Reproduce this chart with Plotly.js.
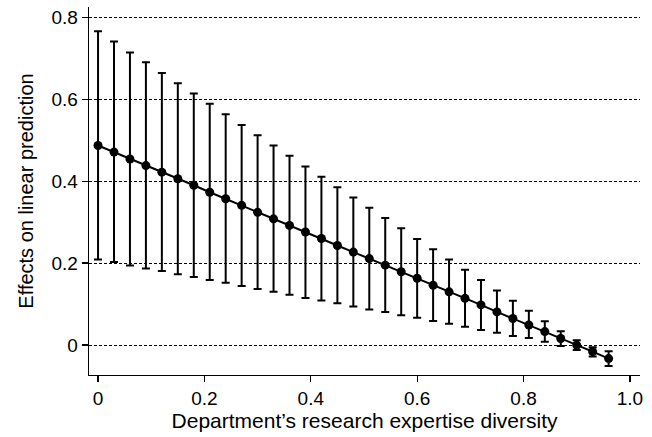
<!DOCTYPE html>
<html>
<head>
<meta charset="utf-8">
<script src="https://cdn.plot.ly/plotly-3.0.1.min.js"></script>
<style>html,body{margin:0;padding:0;background:#fff;}#chart{width:652px;height:437px;}</style>
</head>
<body>
<div id="chart"></div>
<script>
const diversity = [0, 0.03, 0.06, 0.09, 0.12, 0.15, 0.18, 0.21, 0.24, 0.27, 0.30, 0.33, 0.36, 0.39, 0.42, 0.45, 0.48, 0.51, 0.54, 0.57, 0.60, 0.63, 0.66, 0.69, 0.72, 0.75, 0.78, 0.81, 0.84, 0.87, 0.90, 0.93, 0.96];
const effect = [0.487, 0.471, 0.454, 0.438, 0.422, 0.406, 0.390, 0.373, 0.357, 0.341, 0.324, 0.308, 0.292, 0.276, 0.260, 0.243, 0.227, 0.211, 0.195, 0.179, 0.163, 0.146, 0.130, 0.114, 0.098, 0.081, 0.065, 0.049, 0.033, 0.016, 0.000, -0.016, -0.033];
const upperCI = [0.766, 0.741, 0.714, 0.690, 0.664, 0.639, 0.614, 0.589, 0.563, 0.537, 0.512, 0.487, 0.462, 0.436, 0.411, 0.385, 0.360, 0.335, 0.310, 0.285, 0.259, 0.234, 0.209, 0.184, 0.159, 0.133, 0.108, 0.084, 0.058, 0.034, 0.012, -0.005, -0.015];
const lowerCI = [0.209, 0.203, 0.194, 0.187, 0.181, 0.173, 0.166, 0.159, 0.152, 0.144, 0.137, 0.130, 0.123, 0.115, 0.109, 0.102, 0.094, 0.087, 0.081, 0.073, 0.067, 0.059, 0.052, 0.045, 0.037, 0.030, 0.022, 0.017, 0.008, -0.002, -0.012, -0.028, -0.051];
const xTickVals = [0, 0.2, 0.4, 0.6, 0.8, 1.0];
const xTickText = ["0", "0.2", "0.4", "0.6", "0.8", "1.0"];
const yTickVals = [0, 0.2, 0.4, 0.6, 0.8];
const yTickText = ["0", "0.2", "0.4", "0.6", "0.8"];

const errPlus = upperCI.map((u, i) => u - effect[i]);
const errMinus = lowerCI.map((l, i) => effect[i] - l);

const trace = {
  x: diversity,
  y: effect,
  type: 'scatter',
  mode: 'lines+markers',
  line: {color: '#000', width: 2},
  marker: {color: '#000', size: 9},
  error_y: {
    type: 'data', symmetric: false,
    array: errPlus, arrayminus: errMinus,
    color: '#000', thickness: 2, width: 4
  },
  hoverinfo: 'skip'
};

const layout = {
  width: 652, height: 437,
  margin: {l: 89, r: 12, t: 7, b: 62},
  paper_bgcolor: '#fff', plot_bgcolor: '#fff',
  font: {family: '"Liberation Sans", Arial, sans-serif', color: '#000', size: 19},
  showlegend: false,
  xaxis: {
    range: [-0.017, 1.019],
    tickvals: xTickVals, ticktext: xTickText,
    ticks: 'outside', ticklen: 6, tickwidth: 1.3, tickcolor: '#000',
    showline: true, linecolor: '#000', linewidth: 1.3,
    showgrid: false, zeroline: false,
    tickfont: {size: 19},
    title: {text: 'Department’s research expertise diversity', font: {size: 21}, standoff: 4}
  },
  yaxis: {
    range: [-0.073, 0.825],
    tickvals: yTickVals, ticktext: yTickText,
    ticks: 'outside', ticklen: 6, tickwidth: 1.3, tickcolor: '#000',
    showline: true, linecolor: '#000', linewidth: 1.3,
    showgrid: true, gridcolor: '#000', gridwidth: 1, griddash: '3px,2px',
    zeroline: false,
    tickfont: {size: 19},
    title: {text: 'Effects on linear prediction', font: {size: 20}, standoff: 12}
  }
};

Plotly.newPlot('chart', [trace], layout, {displayModeBar: false, staticPlot: true});
</script>
</body>
</html>
